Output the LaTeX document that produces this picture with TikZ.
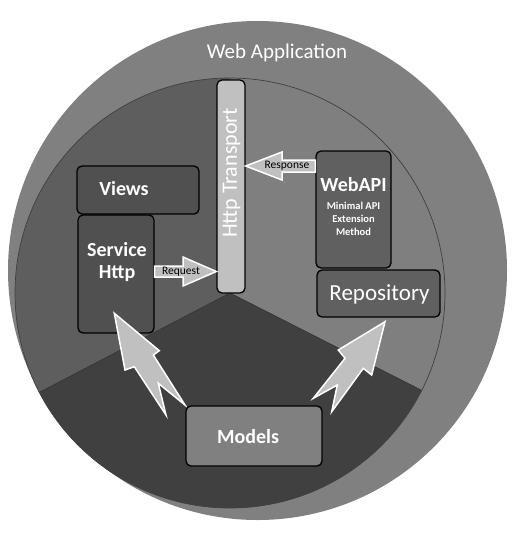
\documentclass[tikz,border=0pt]{standalone}
\usepackage{fontspec}
\setmainfont{Carlito}
\definecolor{ringgray}{HTML}{808080}
\definecolor{rightgray}{HTML}{7F7F7F}
\definecolor{leftgray}{HTML}{5E5E5E}
\definecolor{bottomgray}{HTML}{404040}
\definecolor{darkbox}{HTML}{505050}
\definecolor{midbox}{HTML}{606060}
\definecolor{lightbox}{HTML}{808080}
\definecolor{bargray}{HTML}{C0C0C0}
\begin{document}
\begin{tikzpicture}[x=1pt,y=-1pt,
  box/.style={draw=black, line width=1.3pt, rounded corners=5pt, inner sep=0pt},
  big/.style={text=white, font=\bfseries\fontsize{20}{22}\selectfont, align=center, inner sep=0pt},
  small/.style={text=white, font=\bfseries\fontsize{10.5}{13}\selectfont, align=center, inner sep=0pt},
  arrtext/.style={text=black, font=\fontsize{11.5}{13}\selectfont, inner sep=0pt},
  blockarrow/.style={fill=bargray, draw=white, line width=1.5pt, line join=miter}]
\useasboundingbox (0,0) rectangle (519,533);
% outer ring
\fill[ringgray] (257.5,270.5) circle[radius=249.5];
% inner sectors
\begin{scope}
  \clip (230,293) circle[radius=215];
  \fill[rightgray] (0,0) rectangle (519,533);
  \fill[leftgray] (230,293) -- (230,-50) -- (-150,-50) -- (-150,491) -- cycle;
  \fill[bottomgray] (230,293) -- (-150,491) -- (-150,700) -- (612,700) -- (612,487) -- cycle;
  \draw[line width=0.6pt, black!80] (-150,491) -- (230,293) -- (612,487);
\end{scope}
\draw[line width=0.7pt, black!75] (230,293) circle[radius=215];
\node[text=white, font=\fontsize{21}{24}\selectfont, inner sep=0pt] (title) at (277,53) {Web Application};
% boxes
\node[box, fill=darkbox, minimum width=122pt, minimum height=48pt] (views) at (138,190) {};
\node[big] (viewsT) at (124,189) {Views};
\node[box, fill=darkbox, minimum width=76pt, minimum height=118pt] (svc) at (116,274) {};
\node[big] (svcT) at (117,262) {Service\\Http};
\node[box, fill=bargray, minimum width=28pt, minimum height=213pt] (bar) at (231,186.5) {};
\node[text=white, font=\fontsize{22}{24}\selectfont, rotate=90, inner sep=0pt] (barT) at (231.5,173) {Http Transport};
\node[box, fill=midbox, minimum width=75pt, minimum height=117pt] (api) at (353.5,209.5) {};
\node[big] (apiT) at (353.5,185) {WebAPI};
\node[small] (apiS) at (353.5,219) {Minimal API\\Extension\\Method};
\node[box, fill=midbox, minimum width=123pt, minimum height=47pt] (repo) at (378.5,293.5) {};
\node[text=white, font=\fontsize{23}{26}\selectfont, inner sep=0pt] (repoT) at (379.5,294) {Repository};
% block arrows
\draw[blockarrow] (svc.east |- 0,266) -- (183,266) -- (183,257) -- (bar.west |- 0,271.5) -- (183,286) -- (183,277) -- (svc.east |- 0,277) -- cycle;
\node[arrtext] (req) at (181,272) {Request};
\draw[blockarrow] (api.west |- 0,160) -- (282,160) -- (282,152) -- (bar.east |- 0,166) -- (282,180) -- (282,172) -- (api.west |- 0,172) -- cycle;
\node[arrtext] (resp) at (287,166) {Response};
% big jagged arrows
\draw[blockarrow] (114.3,313.3) -- (159.3,350.7) -- (153.3,355) -- (185,405) -- (158.3,383.3) -- (166,415) -- (134.3,366.7) -- (125,370) -- cycle;
\draw[blockarrow] (385,321.7) -- (371.7,375) -- (363.3,368.3) -- (331.7,411.7) -- (337.3,385) -- (313.3,398.3) -- (345,358.3) -- (338.3,350) -- cycle;
% models
\node[box, fill=lightbox, minimum width=136pt, minimum height=60pt] (models) at (254,436) {};
\node[big] (modelsT) at (248,437) {Models};
\end{tikzpicture}
\end{document}
